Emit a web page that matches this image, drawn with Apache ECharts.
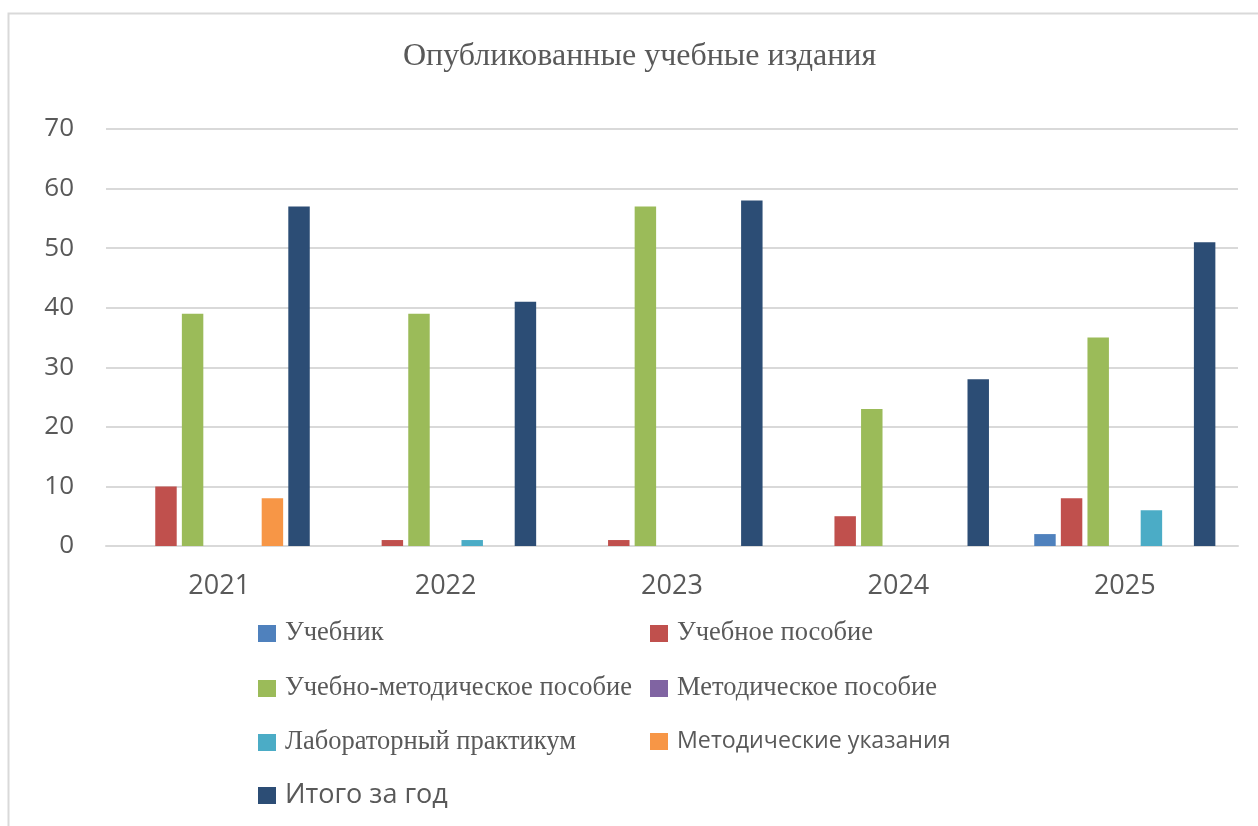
<!DOCTYPE html>
<html><head><meta charset="utf-8">
<script src="https://cdn.jsdelivr.net/npm/echarts@6/dist/echarts.min.js"></script>
<style>html,body{margin:0;padding:0;background:#fff}#c{width:1258px;height:826px}</style>
</head><body><div id="c"></div>
<script>
const categories = ['2021','2022','2023','2024','2025'];
const seriesNames = ['Учебник','Учебное пособие','Учебно-методическое пособие','Методическое пособие','Лабораторный практикум','Методические указания','Итого за год'];
const uchebnik = [0,0,0,0,2];
const uchPosobie = [10,1,1,5,8];
const umPosobie = [39,39,57,23,35];
const metPosobie = [0,0,0,0,0];
const labPraktikum = [0,1,0,0,6];
const metUkazaniya = [8,0,0,0,0];
const itogo = [57,41,58,28,51];
const yTicks = [0,10,20,30,40,50,60,70];

const values = [uchebnik,uchPosobie,umPosobie,metPosobie,labPraktikum,metUkazaniya,itogo];
const colors = ['#4F81BD','#C0504D','#9BBB59','#8064A2','#4BACC6','#F79646','#2C4D75'];

const serif = {fontFamily:'"Liberation Serif", "DejaVu Serif", serif', fontSize:26.5, color:'#595959'};
const sansMid = {fontFamily:'"Open Sans", sans-serif', fontSize:23.2, color:'#595959'};
const sansBig = {fontFamily:'"Open Sans", sans-serif', fontSize:27, color:'#595959'};
const legendPos = [
  [258,620,serif],[650,620,serif],
  [258,675,serif],[650,675,serif],
  [258,729,serif],[650,730,sansMid],
  [258,782,sansBig]
];
const legends = seriesNames.map((n,i)=>({
  data:[n], left:legendPos[i][0], top:legendPos[i][1], padding:0,
  itemWidth:18, itemHeight:17, icon:'rect', selectedMode:false,
  textStyle:Object.assign({padding:[0,0,0,4]}, legendPos[i][2])
}));

const chart = echarts.init(document.getElementById('c'), null, {renderer:'canvas'});
chart.setOption({
  animation:false,
  backgroundColor:'#fff',
  color:colors,
  graphic:[{type:'rect', shape:{x:8.5,y:13.5,width:1300,height:900}, style:{fill:'none', stroke:'#d9d9d9', lineWidth:2}}],
  title:{text:'Опубликованные учебные издания', left:398, top:36,
    textStyle:{fontFamily:'"Liberation Serif", serif', fontSize:32, fontWeight:'normal', color:'#595959'}},
  legend:legends,
  grid:{left:106, right:20, top:129, bottom:280, containLabel:false},
  xAxis:{type:'category', data:categories,
    axisLine:{lineStyle:{color:'#d9d9d9', width:2}}, axisTick:{show:false},
    axisLabel:{margin:27, fontFamily:'"Open Sans", sans-serif', fontSize:27, color:'#595959'}},
  yAxis:{type:'value', min:yTicks[0], max:yTicks[yTicks.length-1], interval:10,
    axisLine:{show:false}, axisTick:{show:false},
    splitLine:{lineStyle:{color:'#d9d9d9', width:2}},
    axisLabel:{margin:32, fontFamily:'"Open Sans", sans-serif', fontSize:26, color:'#595959'}},
  series:seriesNames.map((n,i)=>({
    name:n, type:'bar', data:values[i], barGap:'24%', barCategoryGap:'20%',
    itemStyle:{color:colors[i]}
  }))
});
</script></body></html>
